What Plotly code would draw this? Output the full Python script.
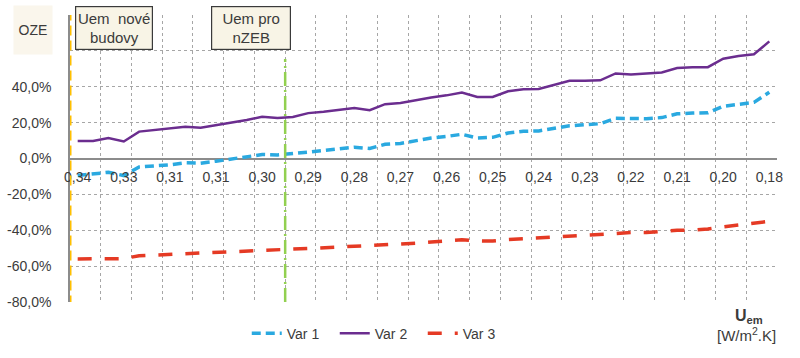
import plotly.graph_objects as go

tick_labels = ["0,34", "0,33", "0,31", "0,31", "0,30", "0,29", "0,28", "0,27",
               "0,26", "0,25", "0,24", "0,23", "0,22", "0,21", "0,20", "0,18"]

var1 = [-9.5, -8.6, -7.7, -9.5, -4.7, -4.1, -3.5, -2.4, -2.6, -1.5, -0.2, 0.7, 2.2, 2.0, 2.6,
        3.6, 4.5, 5.2, 6.3, 5.6, 7.9, 8.4, 10.1, 11.4, 12.3, 13.5, 11.4, 11.8, 14.2, 15.2,
        15.4, 16.7, 18.2, 18.8, 19.4, 22.4, 22.2, 22.2, 22.8, 24.9, 25.3, 25.5, 29.1, 30.2,
        31.3, 36.9]
var2 = [9.7, 9.7, 11.4, 9.5, 15.0, 15.9, 16.8, 17.7, 17.2, 18.7, 19.8, 21.5, 23.3, 22.6, 23.1,
        25.3, 26.1, 27.2, 28.2, 26.9, 30.3, 31.0, 32.7, 34.0, 35.2, 36.8, 34.3, 34.3, 37.5, 38.6,
        38.8, 41.0, 43.3, 43.3, 43.6, 47.4, 46.8, 47.4, 48.0, 50.4, 50.9, 50.9, 55.6, 57.2,
        58.1, 65.3]
var3 = [-56.0, -56.0, -55.8, -55.8, -54.2, -53.8, -53.5, -53.2, -52.6, -52.1, -51.7, -51.4,
        -51.0, -50.7, -50.5, -50.2, -49.8, -49.5, -49.2, -48.7, -48.2, -47.8, -47.2, -46.5,
        -45.8, -45.3, -45.9, -46.0, -45.2, -44.7, -44.3, -43.6, -43.0, -42.6, -42.1, -41.4,
        -41.3, -41.3, -40.6, -40.0, -39.9, -39.3, -38.1, -37.2, -36.3, -35.0]

x = list(range(len(var1)))
tick_vals = list(range(0, len(var1), 3))
y_vals = [-80, -60, -40, -20, 0, 20, 40, 60, 80]
y_text = ["-80,0%", "-60,0%", "-40,0%", "-20,0%", "0,0%", "20,0%", "40,0%", "", ""]

nove_budovy_x = -0.5
nzeb_x = 13.5

FONT = "Liberation Sans, Arial, sans-serif"
TXT = "#3b3b3b"
GRID = "#A6A6A6"

fig = go.Figure()
fig.add_trace(go.Scatter(x=x, y=var1, name="Var 1", mode="lines",
                         line=dict(color="#2AA9E0", width=3.5, dash="9px,5px")))
fig.add_trace(go.Scatter(x=x, y=var2, name="Var 2", mode="lines",
                         line=dict(color="#6B2D8F", width=2.5)))
fig.add_trace(go.Scatter(x=x, y=var3, name="Var 3", mode="lines",
                         line=dict(color="#E53A24", width=3.5, dash="14px,13px")))

# vertical reference lines
fig.add_shape(type="line", xref="x", yref="y", x0=nove_budovy_x, x1=nove_budovy_x, y0=-82, y1=80,
              line=dict(color="#FFC000", width=3, dash="10px,5px"))
fig.add_shape(type="line", xref="x", yref="y", x0=nzeb_x, x1=nzeb_x, y0=-80, y1=55.5,
              line=dict(color="#92D050", width=2.5, dash="14px,4px,2px,4px"))

fig.update_layout(
    width=800, height=358,
    margin=dict(l=70, r=23, t=15, b=56, autoexpand=False),
    paper_bgcolor="white", plot_bgcolor="white",
    font=dict(family=FONT, size=14, color=TXT),
    showlegend=True,
    legend=dict(orientation="h", x=0.25, xanchor="left", y=-0.11, yanchor="middle",
                font=dict(size=14, color=TXT), entrywidth=43, bgcolor="rgba(0,0,0,0)"),
    xaxis=dict(range=[-0.5, len(var1) - 0.5], tickvals=tick_vals, ticktext=[""] * len(tick_vals),
               showticklabels=False, showgrid=False, zeroline=False, showline=False,
               ticks="", automargin=False,
               minor=dict(tick0=-0.5, dtick=2, showgrid=True, gridcolor=GRID,
                          griddash="dot", gridwidth=1, ticks="")),
    xaxis2=dict(matches="x", overlaying="x", anchor="free", position=0.5, side="bottom",
                tickvals=tick_vals, ticktext=tick_labels, showgrid=False, zeroline=False,
                showline=False, ticks="", ticklabelstandoff=8, automargin=False,
                tickfont=dict(size=14, color=TXT)),
    yaxis=dict(range=[-80, 80], tickvals=y_vals, ticktext=y_text,
               showgrid=True, gridcolor=GRID, griddash="dot", gridwidth=1,
               zeroline=True, zerolinecolor="#8C8C8C", zerolinewidth=1.5,
               showline=True, linecolor="#8C8C8C", linewidth=1.5, automargin=False,
               ticks="", ticklabelstandoff=14, tickfont=dict(size=14, color=TXT)),
)
# invisible trace to activate the label axis
fig.add_trace(go.Scatter(x=[x[0]], y=[None], xaxis="x2", yaxis="y", showlegend=False,
                         hoverinfo="skip", mode="lines"))

box = dict(bgcolor="#F8F4E6", bordercolor="#3a3a3a", borderwidth=1.2, borderpad=1,
           font=dict(size=15, color=TXT, family=FONT),
           showarrow=False, xref="paper", yref="paper", align="center",
           xanchor="center", yanchor="middle")
fig.add_annotation(text="Uem  nové<br>budovy", x=(114 - 70) / 707, y=(302 - 28) / 287,
                   width=74, height=40, **box)
fig.add_annotation(text="Uem pro<br>nZEB", x=(251 - 70) / 707, y=(302 - 28) / 287,
                   width=76, height=40, **box)
fig.add_annotation(text="OZE", x=(33 - 70) / 707, y=(302 - 30) / 287, xref="paper", yref="paper",
                   xanchor="center", yanchor="middle",
                   showarrow=False, bgcolor="#FAF6EC", width=36, height=46,
                   font=dict(size=14, color=TXT))
fig.add_annotation(text="<b>U<sub>em</sub></b>", x=(749 - 70) / 707,
                   y=(302 - 316) / 287, xref="paper", yref="paper", showarrow=False,
                   xanchor="center", yanchor="middle",
                   font=dict(size=16, color=TXT), align="center")
fig.add_annotation(text="[W/m<sup>2</sup>.K]", x=(746 - 70) / 707,
                   y=(302 - 334) / 287, xref="paper", yref="paper", showarrow=False,
                   xanchor="center", yanchor="middle",
                   font=dict(size=15, color=TXT), align="center")

fig.write_html("out.html", post_script="document.body.style.margin='0';",
               config={"displayModeBar": False})
